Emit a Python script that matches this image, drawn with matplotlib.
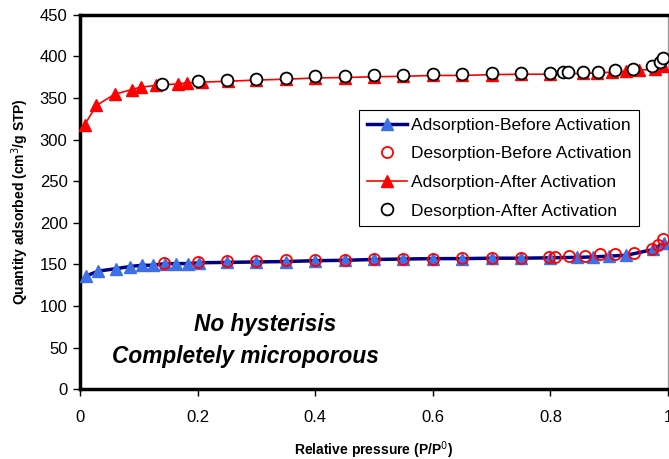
import matplotlib
matplotlib.use("Agg")
import matplotlib.pyplot as plt

plt.rcParams["font.family"] = ["Liberation Sans", "DejaVu Sans"]

# Adsorption before activation (blue triangles + navy line)
ads_before_x = [0.01, 0.031, 0.062, 0.085, 0.105, 0.124, 0.144, 0.163, 0.184, 0.203,
                0.25, 0.30, 0.35, 0.40, 0.45, 0.50, 0.55, 0.60, 0.65, 0.70, 0.75,
                0.80, 0.845, 0.873, 0.90, 0.929, 0.975, 0.993]
ads_before_y = [136, 142, 145, 147.5, 149, 149, 151, 151, 151, 152,
                152.5, 153, 153.5, 154.5, 155, 156, 156.5, 157, 157, 157.5, 157.5,
                158, 158.5, 159, 160, 161, 168, 176]

# Desorption before activation (red hollow circles)
des_before_x = [0.142, 0.20, 0.25, 0.30, 0.35, 0.40, 0.45, 0.50, 0.55, 0.60, 0.65,
                0.70, 0.75, 0.798, 0.808, 0.832, 0.858, 0.884, 0.91, 0.942, 0.972,
                0.983, 0.992]
des_before_y = [152, 153, 154, 154, 155.5, 155.5, 155.5, 157, 157, 157, 158,
                157.5, 157.5, 159, 159, 160, 160, 162, 162, 164, 169,
                173, 180]

# Adsorption after activation (red triangles + red line)
ads_after_x = [0.008, 0.028, 0.059, 0.088, 0.103, 0.13, 0.167, 0.182, 0.208, 0.251,
               0.30, 0.35, 0.40, 0.45, 0.50, 0.55, 0.60, 0.65, 0.70, 0.75, 0.80,
               0.856, 0.879, 0.905, 0.928, 0.95, 0.977, 0.992]
ads_after_y = [318, 341, 354.5, 360, 363, 365, 367, 368, 369, 370,
               371.5, 372.5, 374, 374.5, 375.5, 376, 377, 377, 378, 378.5, 378.5,
               379.5, 380, 381, 382, 383, 385, 388]

# Desorption after activation (black circles, white fill)
des_after_x = [0.14, 0.20, 0.25, 0.30, 0.35, 0.40, 0.45, 0.50, 0.55, 0.60, 0.65,
               0.70, 0.75, 0.80, 0.822, 0.83, 0.856, 0.881, 0.91, 0.94, 0.973,
               0.986, 0.992]
des_after_y = [366.5, 370, 371.5, 373, 374.5, 376, 376, 377.5, 377.5, 378.5, 378.5,
               380.5, 380, 379.5, 381, 381, 381.5, 381.5, 383.5, 385, 388,
               393, 398]

fig = plt.figure(figsize=(6.69, 4.59), dpi=100)
ax = fig.add_axes([0.1196, 0.1518, 0.879, 0.8162])

ax.plot(ads_before_x, ads_before_y, color="#000080", linewidth=2.5, marker="^",
        markersize=8, markerfacecolor="#3D6FE6", markeredgecolor="#3D6FE6",
        label="Adsorption-Before Activation", clip_on=False, zorder=3)
ax.plot(des_before_x, des_before_y, linestyle="none", marker="o", markersize=8,
        markerfacecolor="none", markeredgecolor="red", markeredgewidth=1.3,
        label="Desorption-Before Activation", clip_on=False, zorder=4)
ax.plot(ads_after_x, ads_after_y, color="red", linewidth=1.2, marker="^",
        markersize=9, markerfacecolor="red", markeredgecolor="red",
        label="Adsorption-After Activation", clip_on=False, zorder=3)
ax.plot(des_after_x, des_after_y, linestyle="none", marker="o", markersize=8.5,
        markerfacecolor="white", markeredgecolor="black", markeredgewidth=1.3,
        label="Desorption-After Activation", clip_on=False, zorder=4)

ax.set_xlim(0, 1)
ax.set_ylim(0, 450)
ax.set_xticks([0, 0.2, 0.4, 0.6, 0.8, 1])
ax.set_xticklabels(["0", "0.2", "0.4", "0.6", "0.8", "1"])
ax.set_yticks(range(0, 451, 50))

for side in ("left", "bottom", "top"):
    ax.spines[side].set_linewidth(2.5)
    ax.spines[side].set_color("black")
ax.spines["right"].set_linewidth(1)
ax.spines["right"].set_color("#999999")

ax.tick_params(axis="both", direction="out", length=5, width=1, labelsize=12)
ax.tick_params(axis="x", pad=10)
ax.tick_params(axis="y", pad=4)

ax.set_xlabel("Relative pressure (P/P$^0$)", fontsize=10, fontweight="bold", labelpad=10)
ax.set_ylabel("Quantity adsorbed (cm$^3$/g STP)", fontsize=10, fontweight="bold", labelpad=6)

ax.text(0.315, 70.4, "No hysterisis", fontsize=16.3, fontweight="bold", fontstyle="italic",
        ha="center", va="baseline")
ax.text(0.282, 31.2, "Completely microporous", fontsize=16.3, fontweight="bold",
        fontstyle="italic", ha="center", va="baseline")

leg = ax.legend(loc="upper left", bbox_to_anchor=(0.4745, 0.7456), fontsize=12.5,
                frameon=True, fancybox=False, borderpad=0.45, labelspacing=0.77,
                handlelength=2.3, handletextpad=0.23, borderaxespad=0)
leg.get_frame().set_edgecolor("black")
leg.get_frame().set_linewidth(0.8)
leg.get_frame().set_alpha(1)

fig.savefig("out.png", dpi=100)
